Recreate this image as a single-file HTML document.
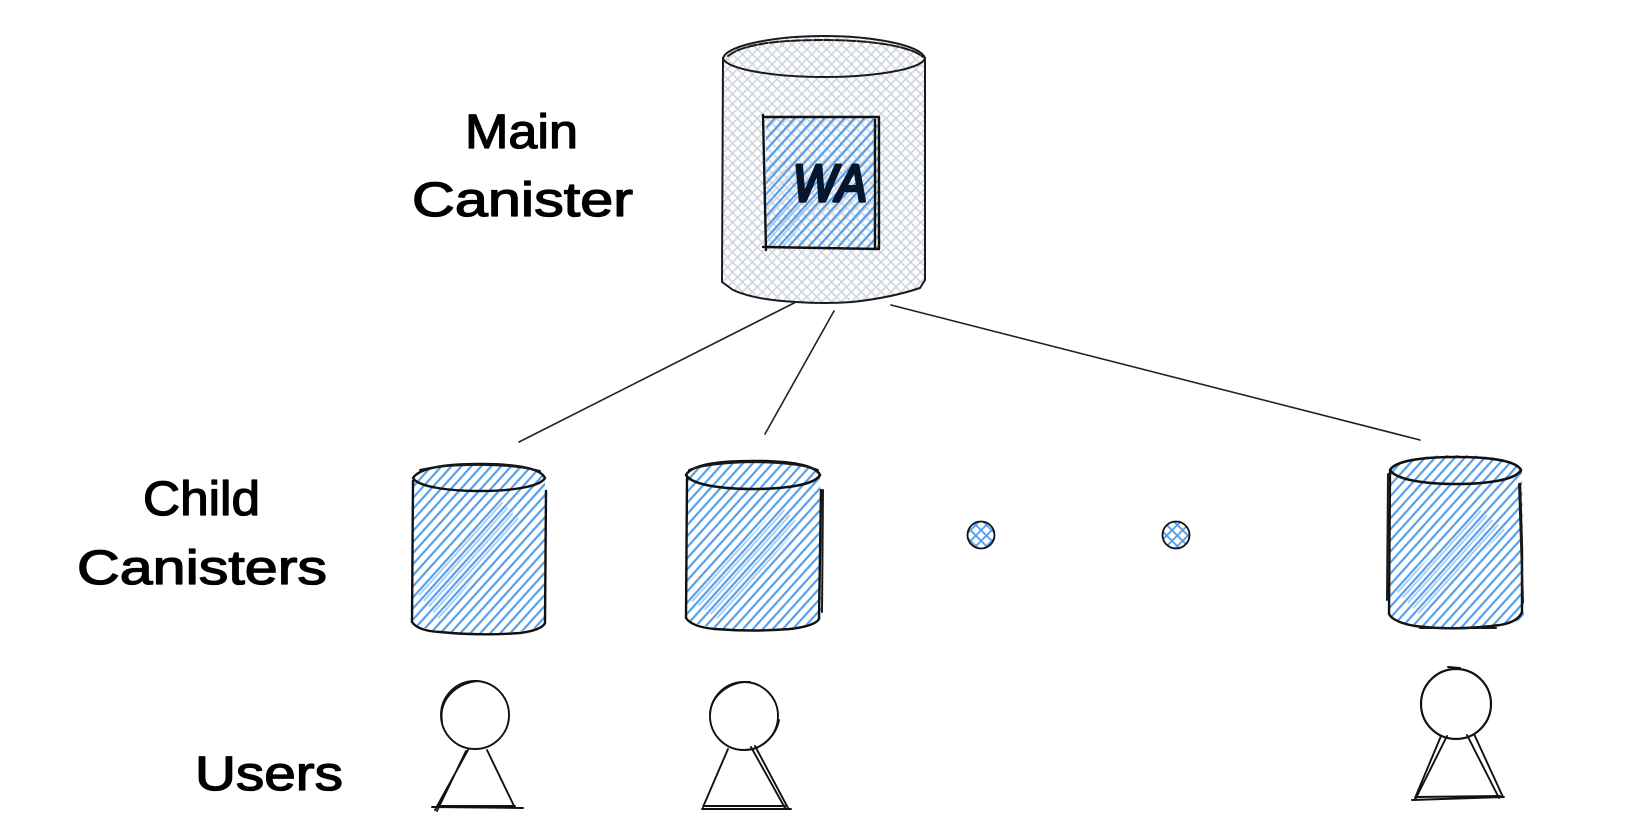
<!DOCTYPE html>
<html><head><meta charset="utf-8"><style>
html,body{margin:0;padding:0;background:#fff;width:1630px;height:836px;overflow:hidden}
svg{display:block}
.t{font-family:"Liberation Sans",sans-serif;font-size:48px;fill:#000;stroke:#000;stroke-width:1.3px;stroke-linejoin:round}
.s{fill:none;stroke:#1a1a1a;stroke-width:2;stroke-linecap:round;stroke-linejoin:round}
.b{fill:none;stroke:#111;stroke-width:2.4;stroke-linecap:round;stroke-linejoin:round}
.l{fill:none;stroke:#222;stroke-width:1.6;stroke-linecap:round}
.p{fill:none;stroke:#111;stroke-width:1.9;stroke-linecap:round}
</style></head><body>
<svg width="1630" height="836" viewBox="0 0 1630 836" xmlns="http://www.w3.org/2000/svg">
<defs>
<pattern id="h" width="7.4" height="7.4" patternUnits="userSpaceOnUse" patternTransform="rotate(-48)"><rect y="2.6" width="7.4" height="2.1" fill="#4f9ceb"/></pattern>
<pattern id="h2" width="7.4" height="7.4" patternUnits="userSpaceOnUse" patternTransform="rotate(-48)"><rect y="6" width="7.4" height="1.3" fill="#8fc1f2"/></pattern>
<pattern id="g1" width="7" height="7" patternUnits="userSpaceOnUse" patternTransform="rotate(-45)"><rect y="2.6" width="7" height="1.6" fill="#ced4de"/></pattern>
<pattern id="g2" width="7" height="7" patternUnits="userSpaceOnUse" patternTransform="rotate(45)"><rect y="2.6" width="7" height="1.6" fill="#ced4de"/></pattern>
<pattern id="d1" width="7.5" height="7.5" patternUnits="userSpaceOnUse" patternTransform="rotate(-45)"><rect y="2.8" width="7.5" height="1.8" fill="#4f9ceb"/></pattern>
<pattern id="d2" width="7.5" height="7.5" patternUnits="userSpaceOnUse" patternTransform="rotate(45)"><rect y="2.8" width="7.5" height="1.8" fill="#4f9ceb"/></pattern>
</defs>

<!-- Main canister -->
<path d="M723 58 C745 30 900 30 925 58 L925 280 L920 288 Q890 302 824 302 Q755 302 733 290 L722 282 Z" fill="url(#g1)"/>
<path d="M723 58 C745 30 900 30 925 58 L925 280 L920 288 Q890 302 824 302 Q755 302 733 290 L722 282 Z" fill="url(#g2)"/>
<path class="s" d="M723 58 C728 44 780 36 824 36 C868 36 920 44 925 58 C922 70 870 77 824 77 C778 77 726 70 723 58 Z"/>
<path class="s" stroke-dasharray="9 2" stroke-width="1.4" d="M728 56 C745 42 790 40 824 40 C860 40 908 44 923 57"/>
<path class="s" d="M723 58 L722 282 L733 290 Q755 300 796 302 Q824 304 852 302 Q890 298 920 288 L925 280 L925 58"/>
<!-- WA square -->
<rect x="766" y="117" width="113" height="131" fill="url(#h)"/>
<path d="M766 230 L820 165 L835 178 L785 248 L766 248 Z" fill="url(#h2)"/>
<path class="b" d="M763 115 L766 250 M765 117 L879 117 L879 249 L763 247 M875 120 L875 248"/>
<text x="793" y="201" class="t" font-style="italic" style="font-size:52px;fill:#06162e;stroke:#06162e;stroke-width:3.4px" textLength="74" lengthAdjust="spacingAndGlyphs">WA</text>

<!-- Connectors -->
<line class="l" x1="796" y1="302" x2="519" y2="442"/>
<line class="l" x1="834" y1="311" x2="765" y2="434"/>
<line class="l" x1="891" y1="305" x2="1420" y2="440"/>

<!-- Child 1 -->
<path d="M413 478 C425 459 535 459 545 478 L546 624 Q530 633 480 634 Q430 633 413 624 Z" fill="url(#h)"/>
<path d="M415 590 L500 500 L520 520 L440 620 Z" fill="url(#h2)"/>
<path class="b" d="M413 478 C420 467 450 464 480 464 C510 464 540 467 545 478 C540 487 510 491 480 491 C450 491 418 487 413 478 Z"/>
<path class="b" d="M413 481 L412 622 Q418 631 440 632 Q480 636 520 633 Q542 630 545 623 L546 491"/>
<path class="s" d="M420 470 C450 463 510 463 540 471"/>

<!-- Child 2 -->
<path d="M686 475 C695 455 810 455 820 475 L821 619 Q805 629 753 630 Q700 629 686 619 Z" fill="url(#h)"/>
<path d="M690 600 L780 505 L800 525 L720 620 Z" fill="url(#h2)"/>
<path class="b" d="M686 475 C692 464 722 461 753 461 C784 461 815 464 820 475 C815 485 784 489 753 489 C722 489 692 485 686 475 Z" style="stroke-width:2.6"/>
<path class="b" d="M687 478 L686 618 Q692 627 715 629 Q753 632 790 629 Q815 626 819 619 L821 490"/>
<path class="s" d="M689 470 C715 460 790 459 818 470 M823 490 L822 612"/>

<!-- Child 3 -->
<path d="M1390 470 C1400 450 1512 450 1522 470 L1524 618 Q1505 628 1456 629 Q1405 628 1390 618 Z" fill="url(#h)"/>
<path d="M1395 590 L1480 510 L1505 530 L1420 615 Z" fill="url(#h2)"/>
<path class="b" d="M1390 470 C1396 460 1426 457 1456 457 C1486 457 1516 460 1521 470 C1516 480 1486 484 1456 484 C1426 484 1396 480 1390 470 Z" style="stroke-width:2.6"/>
<path class="b" d="M1390 472 L1389 614 Q1393 622 1415 626 Q1456 631 1500 625 Q1518 622 1522 612 L1522 550 L1520 484"/>
<path class="s" d="M1388 474 L1387 600 M1519 484 L1523 602 M1420 628 L1496 628"/>

<!-- Dots -->
<circle cx="981" cy="535" r="13.5" fill="url(#d1)"/><circle cx="981" cy="535" r="13.5" fill="url(#d2)"/><circle cx="981" cy="535" r="13.5" fill="none" stroke="#111" stroke-width="1.8"/>
<circle cx="1176" cy="535" r="13.5" fill="url(#d1)"/><circle cx="1176" cy="535" r="13.5" fill="url(#d2)"/><circle cx="1176" cy="535" r="13.5" fill="none" stroke="#111" stroke-width="1.8"/>

<!-- Person 1 -->
<circle class="p" cx="475" cy="715" r="34"/>
<path class="p" stroke-width="1.3" d="M442 722 C438 697 460 682 478 681"/>
<path class="p" d="M468 750 L435 810 M466 751 L437 811 M487 750 L515 808 M432 807 L523 808 M440 806 L515 806"/>

<!-- Person 2 -->
<circle class="p" cx="744" cy="716" r="34"/>
<path class="p" stroke-width="1.3" d="M710 714 C711 695 730 681 750 682 M779 720 C776 737 760 750 746 750"/>
<path class="p" d="M728 749 L703 807 M751 747 L785 808 M755 746 L788 808 M702 809 L791 809 M704 806 L785 806"/>

<!-- Person 3 -->
<circle class="p" cx="1456" cy="704" r="35" style="stroke-width:2.2"/>
<path class="p" d="M1448 667 L1460 668 M1441 736 L1415 798 M1447 736 L1416 798 M1467 735 L1499 798 M1474 734 L1503 797 M1412 800 L1504 797 M1416 797 L1500 796"/>

<!-- Labels -->
<text class="t" x="465" y="148" textLength="113" lengthAdjust="spacingAndGlyphs">Main</text>
<text class="t" x="412" y="216" textLength="221" lengthAdjust="spacingAndGlyphs">Canister</text>
<text class="t" x="143" y="515" textLength="117" lengthAdjust="spacingAndGlyphs">Child</text>
<text class="t" x="77" y="584" textLength="250" lengthAdjust="spacingAndGlyphs">Canisters</text>
<text class="t" x="195" y="790" textLength="148" lengthAdjust="spacingAndGlyphs">Users</text>
</svg>
</body></html>
